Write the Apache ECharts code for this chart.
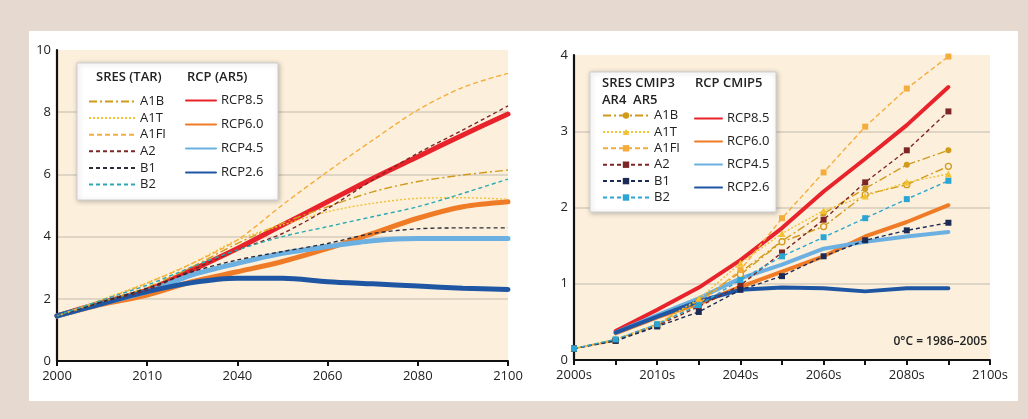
<!DOCTYPE html>
<html>
<head>
<meta charset="utf-8">
<script src="https://cdn.jsdelivr.net/npm/echarts@6/dist/echarts.min.js"></script>
<style>
  html, body { margin: 0; padding: 0; background: #e6d9d0; }
  #frame { position: absolute; left: 29px; top: 31px; width: 989px; height: 370px; background: #ffffff; }
  #chart { position: absolute; left: 0; top: 0; width: 1028px; height: 419px; }
</style>
</head>
<body>
<div id="frame"></div>
<div id="chart"></div>
<script>
// ---------- data ----------
const leftTickLabels = ['2000', '2010', '2040', '2060', '2080', '2100'];
const rightTickLabels = ['2000s', '2010s', '2040s', '2060s', '2080s', '2100s'];

// Left panel: SRES (TAR) and RCP (AR5), 11 evenly spaced steps
const L_A1B  = [1.45, 1.90, 2.37, 3.03, 3.78, 4.43, 4.96, 5.44, 5.77, 5.98, 6.14];
const L_A1T  = [1.45, 1.98, 2.52, 3.14, 3.89, 4.37, 4.80, 5.07, 5.23, 5.25, 5.20];
const L_A1FI = [1.45, 1.96, 2.50, 3.14, 3.89, 5.02, 6.09, 7.10, 8.07, 8.80, 9.25];
const L_A2   = [1.45, 1.90, 2.28, 2.93, 3.57, 4.10, 4.90, 5.82, 6.68, 7.43, 8.20];
const L_B1   = [1.45, 1.90, 2.34, 2.87, 3.25, 3.52, 3.78, 4.10, 4.25, 4.28, 4.28];
const L_B2   = [1.45, 1.96, 2.44, 3.03, 3.57, 4.00, 4.32, 4.64, 4.96, 5.39, 5.85];
const L_RCP85 = [1.45, 1.88, 2.28, 2.93, 3.62, 4.37, 5.12, 5.87, 6.57, 7.27, 7.94];
const L_RCP60 = [1.45, 1.82, 2.12, 2.55, 2.87, 3.20, 3.62, 4.10, 4.59, 4.96, 5.12];
const L_RCP45 = [1.45, 1.85, 2.23, 2.77, 3.14, 3.46, 3.68, 3.87, 3.94, 3.94, 3.94];
const L_RCP26 = [1.45, 1.85, 2.23, 2.52, 2.66, 2.66, 2.55, 2.48, 2.41, 2.34, 2.30];

// Right panel: SRES CMIP3 and RCP CMIP5, steps 0..9 on an 11-tick axis
const R_A1B    = [0.15, 0.27, 0.47, 0.78, 1.15, 1.56, 1.92, 2.25, 2.56, 2.75];
const R_A1B5   = [null, null, null, null, 1.12, 1.55, 1.75, 2.17, 2.30, 2.54];
const R_A1T    = [0.15, 0.27, 0.47, 0.80, 1.27, 1.66, 1.96, 2.15, 2.33, 2.44];
const R_A1FI   = [0.15, 0.25, 0.46, 0.74, 1.18, 1.86, 2.46, 3.06, 3.56, 3.98];
const R_A2     = [0.15, 0.26, 0.45, 0.70, 0.98, 1.41, 1.84, 2.33, 2.75, 3.26];
const R_B1     = [0.15, 0.25, 0.44, 0.63, 0.92, 1.10, 1.36, 1.57, 1.70, 1.80];
const R_B2     = [0.15, 0.27, 0.47, 0.72, 1.05, 1.36, 1.61, 1.86, 2.11, 2.35];
const R_RCP85  = [null, 0.38, 0.66, 0.95, 1.31, 1.73, 2.21, 2.64, 3.08, 3.58];
const R_RCP60  = [null, 0.35, 0.56, 0.74, 0.96, 1.16, 1.36, 1.62, 1.81, 2.03];
const R_RCP45  = [null, 0.36, 0.59, 0.81, 1.07, 1.25, 1.46, 1.55, 1.62, 1.68];
const R_RCP26  = [null, 0.36, 0.57, 0.77, 0.92, 0.95, 0.94, 0.90, 0.94, 0.94];

// ---------- styling ----------
const C = {
  A1B: '#d19a1c', A1T: '#f0c234', A1FI: '#f4ad3d', A2: '#7e2626', B1: '#2b2b3a', B2: '#2aa9b4',
  B1r: '#1c2b55', B2r: '#2ba6d4',
  RCP85: '#e8232b', RCP60: '#f07b27', RCP45: '#6cb0e2', RCP26: '#1f56a3'
};
const FONT = 'Open Sans';

function pairs(vals) {
  const out = [];
  vals.forEach((v, i) => { if (v != null) out.push([i, v]); });
  return out;
}

function rcp(name, vals, color, width, axis) {
  return {
    name, type: 'line', xAxisIndex: axis, yAxisIndex: axis, data: pairs(vals),
    smooth: axis === 0 ? 0.3 : false, symbol: 'none', z: 2,
    lineStyle: { color, width, cap: 'round' }, itemStyle: { color }
  };
}
function sres(name, vals, color, dash, axis, symbol, hollow) {
  return {
    name, type: 'line', xAxisIndex: axis, yAxisIndex: axis, data: pairs(vals),
    smooth: axis === 0 ? 0.3 : false,
    symbol: axis === 0 ? 'none' : symbol, symbolSize: symbol === 'triangle' ? 7 : 6,
    showSymbol: axis !== 0, z: 3,
    lineStyle: { color, width: 1.4, type: dash },
    itemStyle: hollow ? { color: '#fcf0dc', borderColor: color, borderWidth: 1.3 } : { color }
  };
}

const dashDot = [8, 3, 2, 3];
const dotted = [2, 2];
const dashed = [5, 3];
const dashed2 = [4, 3];

const series = [
  rcp('RCP8.5', L_RCP85, C.RCP85, 5, 0),
  rcp('RCP6.0', L_RCP60, C.RCP60, 5, 0),
  rcp('RCP4.5', L_RCP45, C.RCP45, 5, 0),
  rcp('RCP2.6', L_RCP26, C.RCP26, 5, 0),
  sres('A1B', L_A1B, C.A1B, dashDot, 0),
  sres('A1T', L_A1T, C.A1T, dotted, 0),
  sres('A1FI', L_A1FI, C.A1FI, dashed, 0),
  sres('A2', L_A2, C.A2, dashed2, 0),
  sres('B1', L_B1, C.B1, dashed2, 0),
  sres('B2', L_B2, C.B2, dashed2, 0),

  rcp('RCP8.5 (CMIP5)', R_RCP85, C.RCP85, 4, 1),
  rcp('RCP6.0 (CMIP5)', R_RCP60, C.RCP60, 4, 1),
  rcp('RCP4.5 (CMIP5)', R_RCP45, C.RCP45, 4, 1),
  rcp('RCP2.6 (CMIP5)', R_RCP26, C.RCP26, 4, 1),
  sres('A1B (CMIP3)', R_A1B, C.A1B, dashDot, 1, 'circle'),
  sres('A1B AR5 (CMIP3)', R_A1B5, C.A1B, dashDot, 1, 'circle', true),
  sres('A1T (CMIP3)', R_A1T, C.A1T, dotted, 1, 'triangle'),
  sres('A1FI (CMIP3)', R_A1FI, C.A1FI, dashed, 1, 'rect'),
  sres('A2 (CMIP3)', R_A2, C.A2, dashed2, 1, 'rect'),
  sres('B1 (CMIP3)', R_B1, C.B1r, dashed2, 1, 'rect'),
  sres('B2 (CMIP3)', R_B2, C.B2r, dashed2, 1, 'rect')
];

const axisLabelStyle = { color: '#222', fontSize: 13, fontFamily: FONT };
const axisLineStyle = { show: true, lineStyle: { color: '#111', width: 2.2 } };

function legend(names, left, top, itemWidth, gap, hideSymbol) {
  const l = {
    orient: 'vertical', left, top, padding: 0, itemWidth, itemHeight: 8, itemGap: gap,
    selectedMode: false, data: names, z: 20,
    formatter: n => n.replace(/ \(.*\)$/, ''),
    textStyle: { color: '#222', fontSize: 13, fontFamily: FONT }
  };
  if (hideSymbol) l.itemStyle = { color: 'rgba(0,0,0,0)', borderColor: 'rgba(0,0,0,0)', borderWidth: 0 };
  return l;
}

const headerStyle = { fill: '#222', fontSize: 13, fontFamily: FONT, fontWeight: 600 };

const option = {
  backgroundColor: 'transparent',
  animation: false,
  grid: [
    { left: 57, right: 520, top: 50, bottom: 58, show: true, backgroundColor: '#fcf0dc', borderWidth: 0 },
    { left: 574, right: 38, top: 55, bottom: 59, show: true, backgroundColor: '#fcf0dc', borderWidth: 0 }
  ],
  xAxis: [
    {
      type: 'value', gridIndex: 0, min: 0, max: 10, interval: 2,
      axisLine: axisLineStyle,
      axisTick: { show: true, length: 5, lineStyle: { color: '#111', width: 2 } },
      axisLabel: Object.assign({ margin: 9, formatter: v => leftTickLabels[Math.round(v / 2)] }, axisLabelStyle),
      splitLine: { show: false }
    },
    {
      type: 'value', gridIndex: 1, min: 0, max: 10, interval: 1,
      axisLine: axisLineStyle,
      axisTick: { show: true, length: 5, lineStyle: { color: '#111', width: 2 } },
      axisLabel: Object.assign({ margin: 9, formatter: v => (v % 2 === 0 ? rightTickLabels[v / 2] : '') }, axisLabelStyle),
      splitLine: { show: false }
    }
  ],
  yAxis: [
    {
      type: 'value', gridIndex: 0, min: 0, max: 10, interval: 2,
      axisLine: axisLineStyle, axisTick: { show: false },
      axisLabel: Object.assign({ margin: 6 }, axisLabelStyle),
      splitLine: { show: true, showMaxLine: false, lineStyle: { color: '#d6ccbe', width: 1.5 } }
    },
    {
      type: 'value', gridIndex: 1, min: 0, max: 4, interval: 1,
      axisLine: axisLineStyle, axisTick: { show: false },
      axisLabel: Object.assign({ margin: 6 }, axisLabelStyle),
      splitLine: { show: true, showMaxLine: false, lineStyle: { color: '#d6ccbe', width: 1.5 } }
    }
  ],
  legend: [
    legend(['A1B', 'A1T', 'A1FI', 'A2', 'B1', 'B2'], 88, 95, 46, 3.6, true),
    legend(['RCP8.5', 'RCP6.0', 'RCP4.5', 'RCP2.6'], 185, 94, 30, 11, true),
    legend(['A1B (CMIP3)', 'A1T (CMIP3)', 'A1FI (CMIP3)', 'A2 (CMIP3)', 'B1 (CMIP3)', 'B2 (CMIP3)'], 602, 109, 46, 3.4, false),
    legend(['RCP8.5 (CMIP5)', 'RCP6.0 (CMIP5)', 'RCP4.5 (CMIP5)', 'RCP2.6 (CMIP5)'], 694, 112, 27, 10, true)
  ],
  graphic: [
    { type: 'rect', z: 10, shape: { x: 77, y: 63, width: 201, height: 137 },
      style: { fill: '#ffffff', stroke: '#cfcfcf', lineWidth: 1, shadowBlur: 5, shadowColor: 'rgba(0,0,0,0.25)', shadowOffsetX: 1, shadowOffsetY: 1 } },
    { type: 'rect', z: 10, shape: { x: 590, y: 72, width: 186, height: 140 },
      style: { fill: '#ffffff', stroke: '#cfcfcf', lineWidth: 1, shadowBlur: 5, shadowColor: 'rgba(0,0,0,0.25)', shadowOffsetX: 1, shadowOffsetY: 1 } },
    { type: 'text', z: 11, left: 96, top: 71, style: Object.assign({ text: 'SRES (TAR)' }, headerStyle) },
    { type: 'text', z: 11, left: 187, top: 71, style: Object.assign({ text: 'RCP (AR5)' }, headerStyle) },
    { type: 'text', z: 11, left: 602, top: 77, style: Object.assign({ text: 'SRES CMIP3' }, headerStyle) },
    { type: 'text', z: 11, left: 602, top: 94, style: Object.assign({ text: 'AR4  AR5' }, headerStyle) },
    { type: 'text', z: 11, left: 695, top: 77, style: Object.assign({ text: 'RCP CMIP5' }, headerStyle) },
    { type: 'text', z: 11, right: 41, top: 336, style: { text: '0°C = 1986–2005', fill: '#222', fontSize: 12, fontFamily: FONT, fontWeight: 600 } }
  ],
  series
};

const chart = echarts.init(document.getElementById('chart'), null, { renderer: 'canvas' });
chart.setOption(option);
</script>
</body>
</html>
